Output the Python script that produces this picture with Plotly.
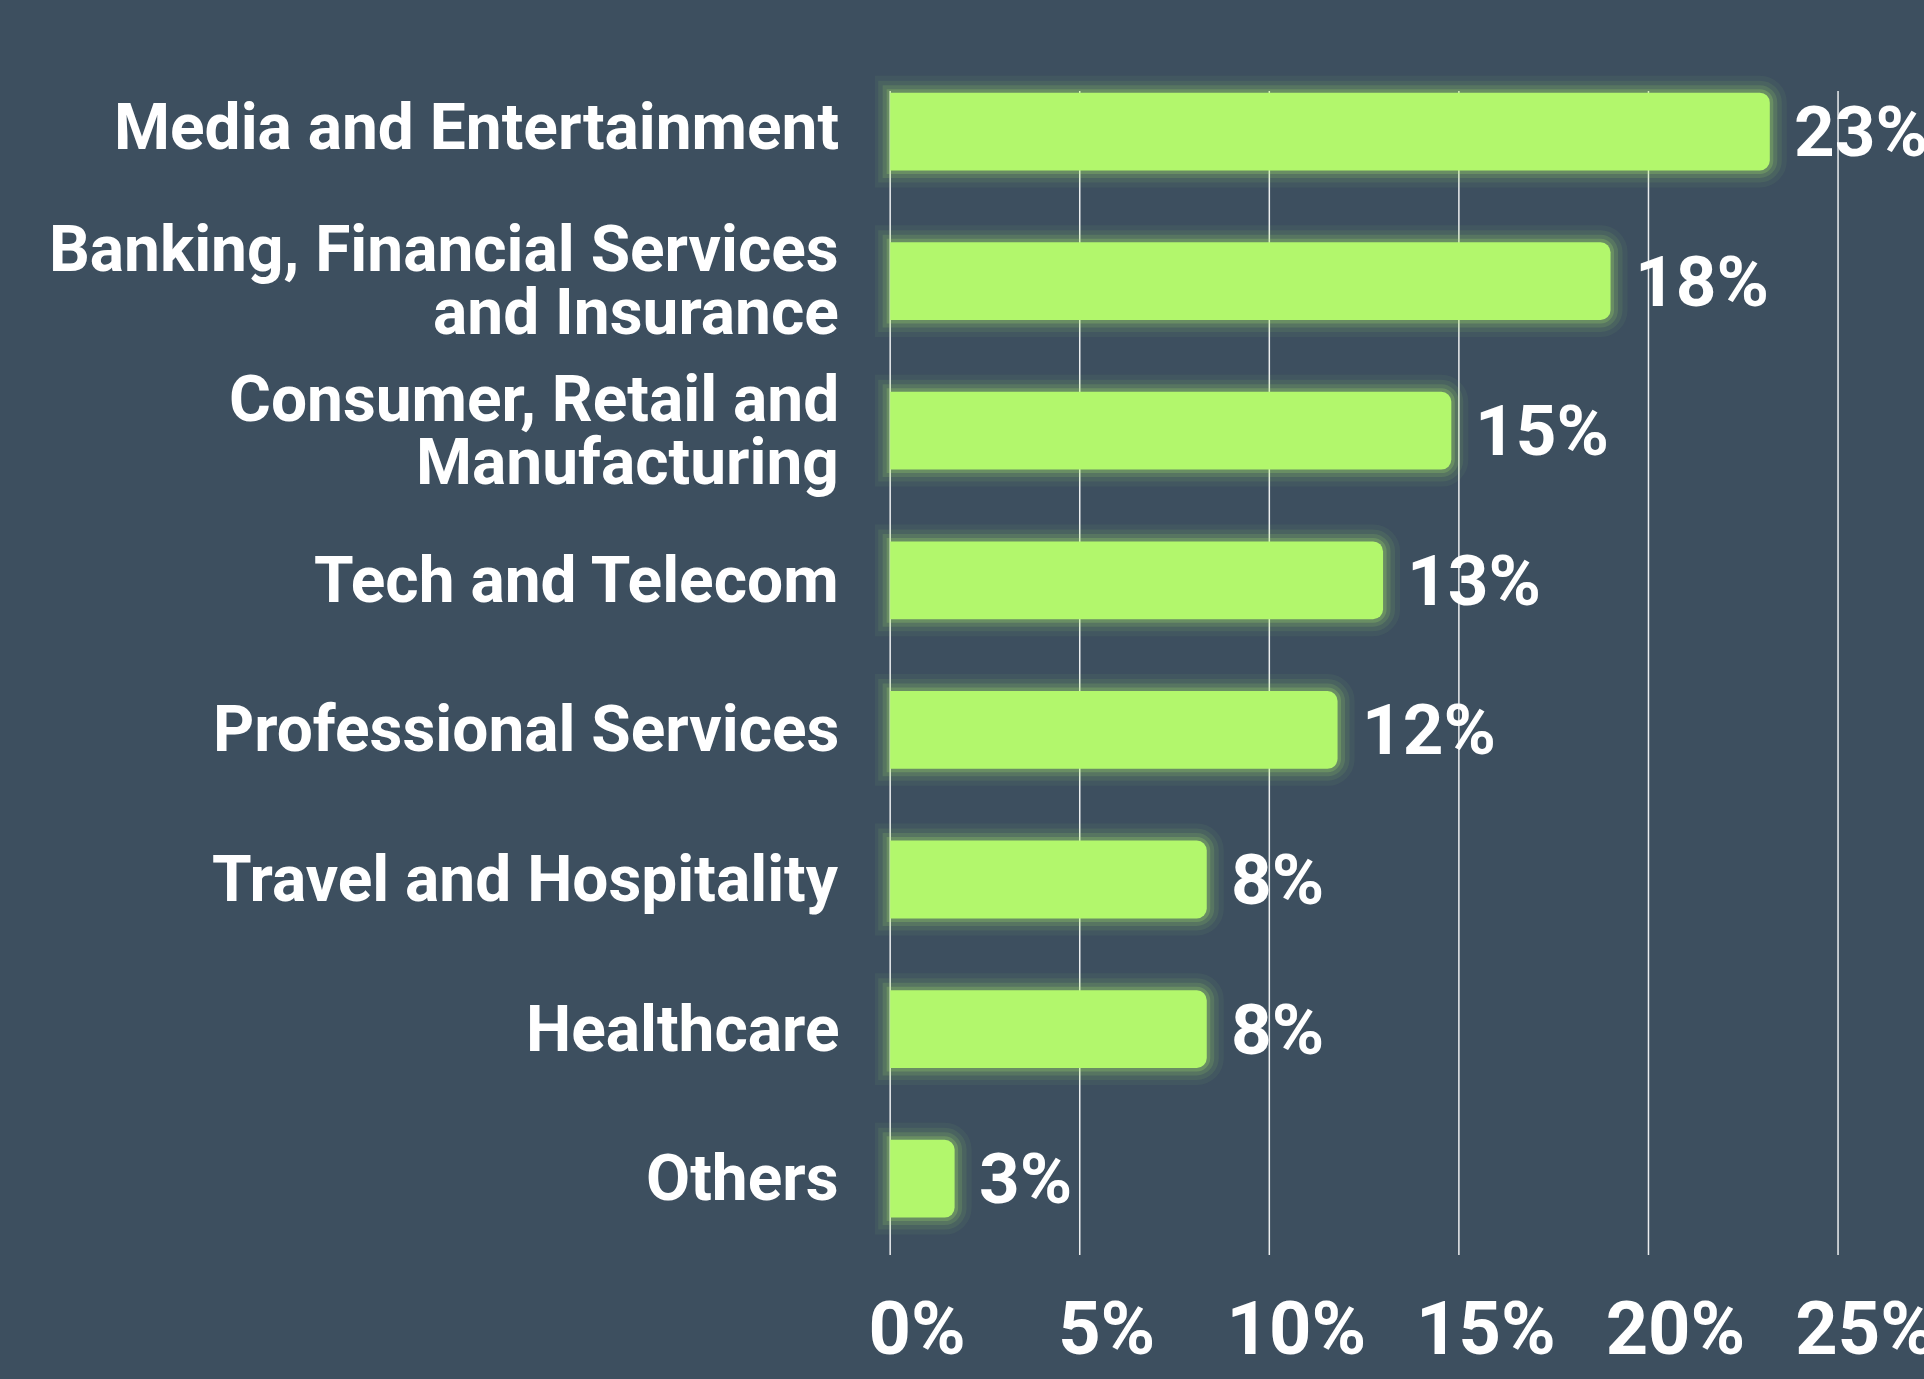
import plotly.graph_objects as go

categories = [
    "Media and Entertainment",
    "Banking, Financial Services<br>and Insurance",
    "Consumer, Retail and<br>Manufacturing",
    "Tech and Telecom",
    "Professional Services",
    "Travel and Hospitality",
    "Healthcare",
    "Others",
]
# bar lengths as drawn in the picture (percent)
bar_lengths = [23.2, 19.0, 14.8, 13.0, 11.8, 8.35, 8.35, 1.7]
# printed value labels
value_labels = ["23%", "18%", "15%", "13%", "12%", "8%", "8%", "3%"]
tick_values = [0, 5, 10, 15, 20, 25]
tick_labels = ["0%", "5%", "10%", "15%", "20%", "25%"]

BG = "#3d4f5f"
GREEN = "#b2f76c"
FONT = "Roboto"

ycat = list(range(len(categories)))

fig = go.Figure()

# glow layers
for w, a in [(34, 0.05), (24, 0.08), (15, 0.12), (7, 0.2)]:
    fig.add_trace(go.Bar(
        x=bar_lengths, y=ycat, orientation="h", width=0.52,
        marker=dict(color="rgba(0,0,0,0)", cornerradius=10,
                    line=dict(color=f"rgba(178,247,108,{a})", width=w)),
        hoverinfo="skip", showlegend=False,
    ))

fig.add_trace(go.Bar(
    x=bar_lengths, y=ycat, orientation="h", width=0.52,
    marker=dict(color=GREEN, cornerradius=10, line=dict(width=0)),
    showlegend=False,
))

annotations = []
# category labels, one annotation per line
line_gap = 63
for i, cat in enumerate(categories):
    lines = cat.split("<br>")
    n = len(lines)
    for j, ln in enumerate(lines):
        annotations.append(dict(
            text=ln, x=0, xref="paper", xanchor="right", xshift=-34,
            y=ycat[i], yref="y", yanchor="middle",
            yshift=((n - 1) / 2 - j) * line_gap + (4 if i == 0 else 0),
            showarrow=False,
            font=dict(family=FONT, size=64, color="white", weight="bold"),
        ))
# value labels
for i, (v, lab) in enumerate(zip(bar_lengths, value_labels)):
    annotations.append(dict(
        text=lab, x=v, xref="x", xanchor="left", xshift=22,
        y=ycat[i], yref="y", yanchor="middle",
        showarrow=False,
        font=dict(family=FONT, size=71, color="white", weight="bold"),
    ))

# vertical grid lines (drawn as shapes so they stop below the top of the plot)
shapes = [
    dict(type="line", xref="x", yref="paper", x0=t, x1=t, y0=0, y1=0.979,
         line=dict(color="rgba(255,255,255,0.9)", width=1.5), layer="below")
    for t in tick_values
]

fig.update_layout(
    width=1924, height=1379,
    paper_bgcolor=BG, plot_bgcolor=BG,
    barmode="overlay",
    margin=dict(l=875, r=67, t=66, b=124, autoexpand=False),
    annotations=annotations,
    shapes=shapes,
    xaxis=dict(
        range=[-0.4, 25.5],
        tickvals=tick_values, ticktext=tick_labels,
        showgrid=False, zeroline=False, showline=False, ticks="",
        tickfont=dict(family=FONT, size=74, color="white", weight="bold"),
        ticklabelshift=27, ticklabelstandoff=24,
        ticklabeloverflow="allow", automargin=False,
    ),
    yaxis=dict(
        range=[7.51, -0.438],
        showticklabels=False, showgrid=False, zeroline=False,
        showline=False, ticks="", automargin=False,
    ),
)

fig.write_html("out.html", config={"displayModeBar": False},
               post_script="document.body.style.margin='0';")
